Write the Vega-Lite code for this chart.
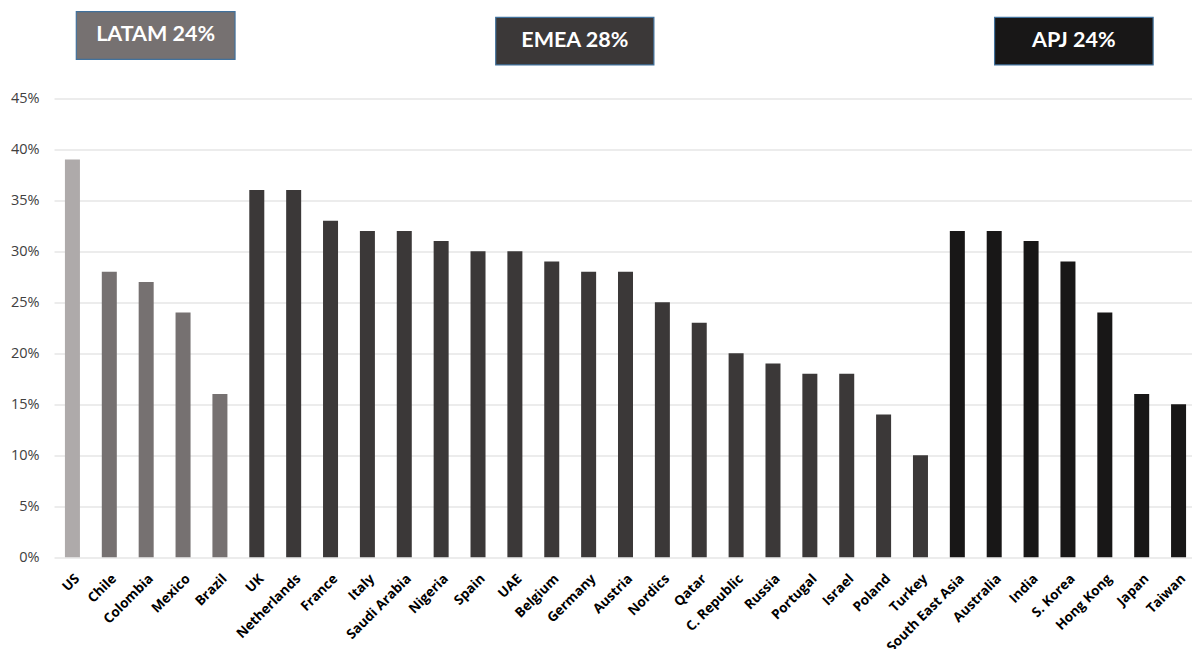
{
  "$schema": "https://vega.github.io/schema/vega-lite/v6.json",
  "width": 1143,
  "height": 550.8,
  "autosize": {"type": "none"},
  "padding": {"left": 54, "top": 6.5, "right": 0, "bottom": 91.7},
  "background": "white",
  "config": {"view": {"stroke": null}, "font": "Open Sans"},
  "datasets": {
    "countries": [
      {"country": "US", "group": "US", "share": 0.39},
      {"country": "Chile", "group": "LATAM", "share": 0.28},
      {"country": "Colombia", "group": "LATAM", "share": 0.27},
      {"country": "Mexico", "group": "LATAM", "share": 0.24},
      {"country": "Brazil", "group": "LATAM", "share": 0.16},
      {"country": "UK", "group": "EMEA", "share": 0.36},
      {"country": "Netherlands", "group": "EMEA", "share": 0.36},
      {"country": "France", "group": "EMEA", "share": 0.33},
      {"country": "Italy", "group": "EMEA", "share": 0.32},
      {"country": "Saudi Arabia", "group": "EMEA", "share": 0.32},
      {"country": "Nigeria", "group": "EMEA", "share": 0.31},
      {"country": "Spain", "group": "EMEA", "share": 0.30},
      {"country": "UAE", "group": "EMEA", "share": 0.30},
      {"country": "Belgium", "group": "EMEA", "share": 0.29},
      {"country": "Germany", "group": "EMEA", "share": 0.28},
      {"country": "Austria", "group": "EMEA", "share": 0.28},
      {"country": "Nordics", "group": "EMEA", "share": 0.25},
      {"country": "Qatar", "group": "EMEA", "share": 0.23},
      {"country": "C. Republic", "group": "EMEA", "share": 0.20},
      {"country": "Russia", "group": "EMEA", "share": 0.19},
      {"country": "Portugal", "group": "EMEA", "share": 0.18},
      {"country": "Israel", "group": "EMEA", "share": 0.18},
      {"country": "Poland", "group": "EMEA", "share": 0.14},
      {"country": "Turkey", "group": "EMEA", "share": 0.10},
      {"country": "South East Asia", "group": "APJ", "share": 0.32},
      {"country": "Australia", "group": "APJ", "share": 0.32},
      {"country": "India", "group": "APJ", "share": 0.31},
      {"country": "S. Korea", "group": "APJ", "share": 0.29},
      {"country": "Hong Kong", "group": "APJ", "share": 0.24},
      {"country": "Japan", "group": "APJ", "share": 0.16},
      {"country": "Taiwan", "group": "APJ", "share": 0.15}
    ],
    "regions": [
      {"group": "LATAM", "label": "LATAM 24%", "x0": 0.605, "x1": 4.91, "xm": 2.757, "y0": 0.4882, "y1": 0.5349, "ym": 0.5116},
      {"group": "EMEA", "label": "EMEA 28%", "x0": 11.98, "x1": 16.27, "xm": 14.125, "y0": 0.4827, "y1": 0.5294, "ym": 0.5061},
      {"group": "APJ", "label": "APJ 24%", "x0": 25.51, "x1": 29.81, "xm": 27.66, "y0": 0.4827, "y1": 0.5294, "ym": 0.5061}
    ]
  },
  "layer": [
    {
      "data": {"name": "countries"},
      "mark": {"type": "bar"},
      "encoding": {
        "x": {
          "field": "country",
          "type": "nominal",
          "sort": null,
          "scale": {"paddingInner": 0.593, "paddingOuter": 0.2965},
          "axis": {
            "title": null,
            "labelAngle": -45,
            "labelFont": "Open Sans",
            "labelFontWeight": "bold",
            "labelFontSize": 13.5,
            "labelColor": "#000000",
            "ticks": false,
            "domain": false,
            "grid": false,
            "labelPadding": 14
          }
        },
        "y": {
          "field": "share",
          "type": "quantitative",
          "scale": {"domain": [0, 0.54], "nice": false},
          "axis": {
            "title": null,
            "values": [0, 0.05, 0.1, 0.15, 0.2, 0.25, 0.3, 0.35, 0.4, 0.45],
            "format": ".0%",
            "grid": true,
            "gridColor": "#d9d9d9",
            "gridWidth": 1,
            "domain": false,
            "ticks": false,
            "labelPadding": 15,
            "labelFont": "Open Sans",
            "labelFontSize": 14.5,
            "labelColor": "#404040"
          }
        },
        "color": {
          "field": "group",
          "type": "nominal",
          "scale": {"domain": ["US", "LATAM", "EMEA", "APJ"], "range": ["#aeaaaa", "#767171", "#3b3838", "#181717"]},
          "legend": null
        }
      }
    },
    {
      "data": {"name": "regions"},
      "layer": [
        {
          "mark": {"type": "rect", "stroke": "#41719c", "strokeWidth": 1.2},
          "encoding": {
            "x": {"field": "x0", "type": "quantitative", "scale": {"domain": [0, 31], "nice": false, "zero": false}, "axis": null},
            "x2": {"field": "x1"},
            "y": {"field": "y0", "type": "quantitative", "title": null},
            "y2": {"field": "y1"},
            "color": {"field": "group", "type": "nominal", "legend": null}
          }
        },
        {
          "mark": {"type": "text", "fill": "white", "font": "Lato", "fontWeight": "bold", "fontSize": 21.5, "align": "center", "baseline": "middle"},
          "encoding": {
            "x": {"field": "xm", "type": "quantitative", "scale": {"domain": [0, 31], "nice": false, "zero": false}, "axis": null},
            "y": {"field": "ym", "type": "quantitative", "title": null},
            "text": {"field": "label"}
          }
        }
      ]
    }
  ],
  "resolve": {"scale": {"x": "independent"}}
}
